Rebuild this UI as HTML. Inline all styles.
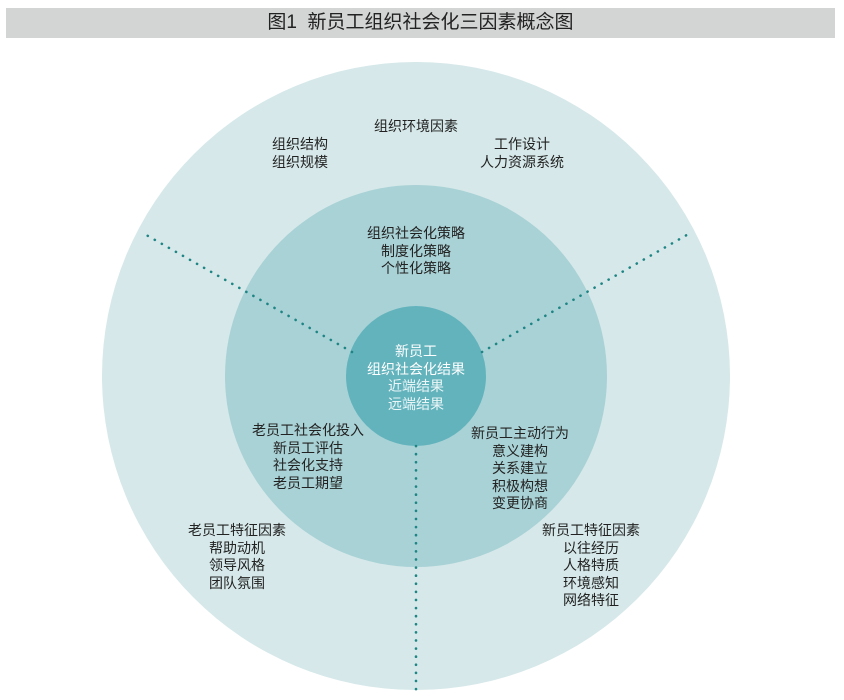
<!DOCTYPE html>
<html><head><meta charset="utf-8"><style>
body{margin:0;width:844px;height:700px;background:#fff;overflow:hidden;position:relative;font-family:"Liberation Sans","Noto Sans CJK SC",sans-serif;}
.t{position:absolute;font-size:14px;line-height:17.5px;color:#222;text-align:center;white-space:nowrap;transform:translateX(-50%);}
.title{position:absolute;left:6px;top:8px;width:829px;height:30px;background:#d3d4d4;text-align:center;font-size:19px;line-height:30px;color:#222;}
</style></head><body>
<div class="title">图1&nbsp; 新员工组织社会化三因素概念图</div>
<svg width="844" height="700" style="position:absolute;left:0;top:0">
<circle cx="416" cy="376" r="314" fill="#d6e8e9"/>
<circle cx="416" cy="376" r="191" fill="#a9d2d6"/>
<circle cx="416" cy="376" r="70" fill="#63b3bd"/>
<g stroke="#1f8584" stroke-width="2.6" stroke-dasharray="0.1 8" stroke-linecap="round" fill="none">
<line x1="352" y1="352" x2="141" y2="232"/>
<line x1="482" y1="352" x2="692" y2="232"/>
<line x1="416" y1="446" x2="416" y2="690"/>
</g>
</svg>
<div class="t" style="left:416px;top:118px">组织环境因素</div>
<div class="t" style="left:300px;top:136px">组织结构<br>组织规模</div>
<div class="t" style="left:522px;top:136px">工作设计<br>人力资源系统</div>
<div class="t" style="left:416px;top:225px">组织社会化策略<br>制度化策略<br>个性化策略</div>
<div class="t" style="left:416px;top:343px;color:#fff">新员工<br>组织社会化结果</div>
<div class="t" style="left:416px;top:378px;color:#eaf6f7">近端结果<br>远端结果</div>
<div class="t" style="left:308px;top:422px">老员工社会化投入<br>新员工评估<br>社会化支持<br>老员工期望</div>
<div class="t" style="left:520px;top:425px">新员工主动行为<br>意义建构<br>关系建立<br>积极构想<br>变更协商</div>
<div class="t" style="left:237px;top:522px">老员工特征因素<br>帮助动机<br>领导风格<br>团队氛围</div>
<div class="t" style="left:591px;top:522px">新员工特征因素<br>以往经历<br>人格特质<br>环境感知<br>网络特征</div>
</body></html>
